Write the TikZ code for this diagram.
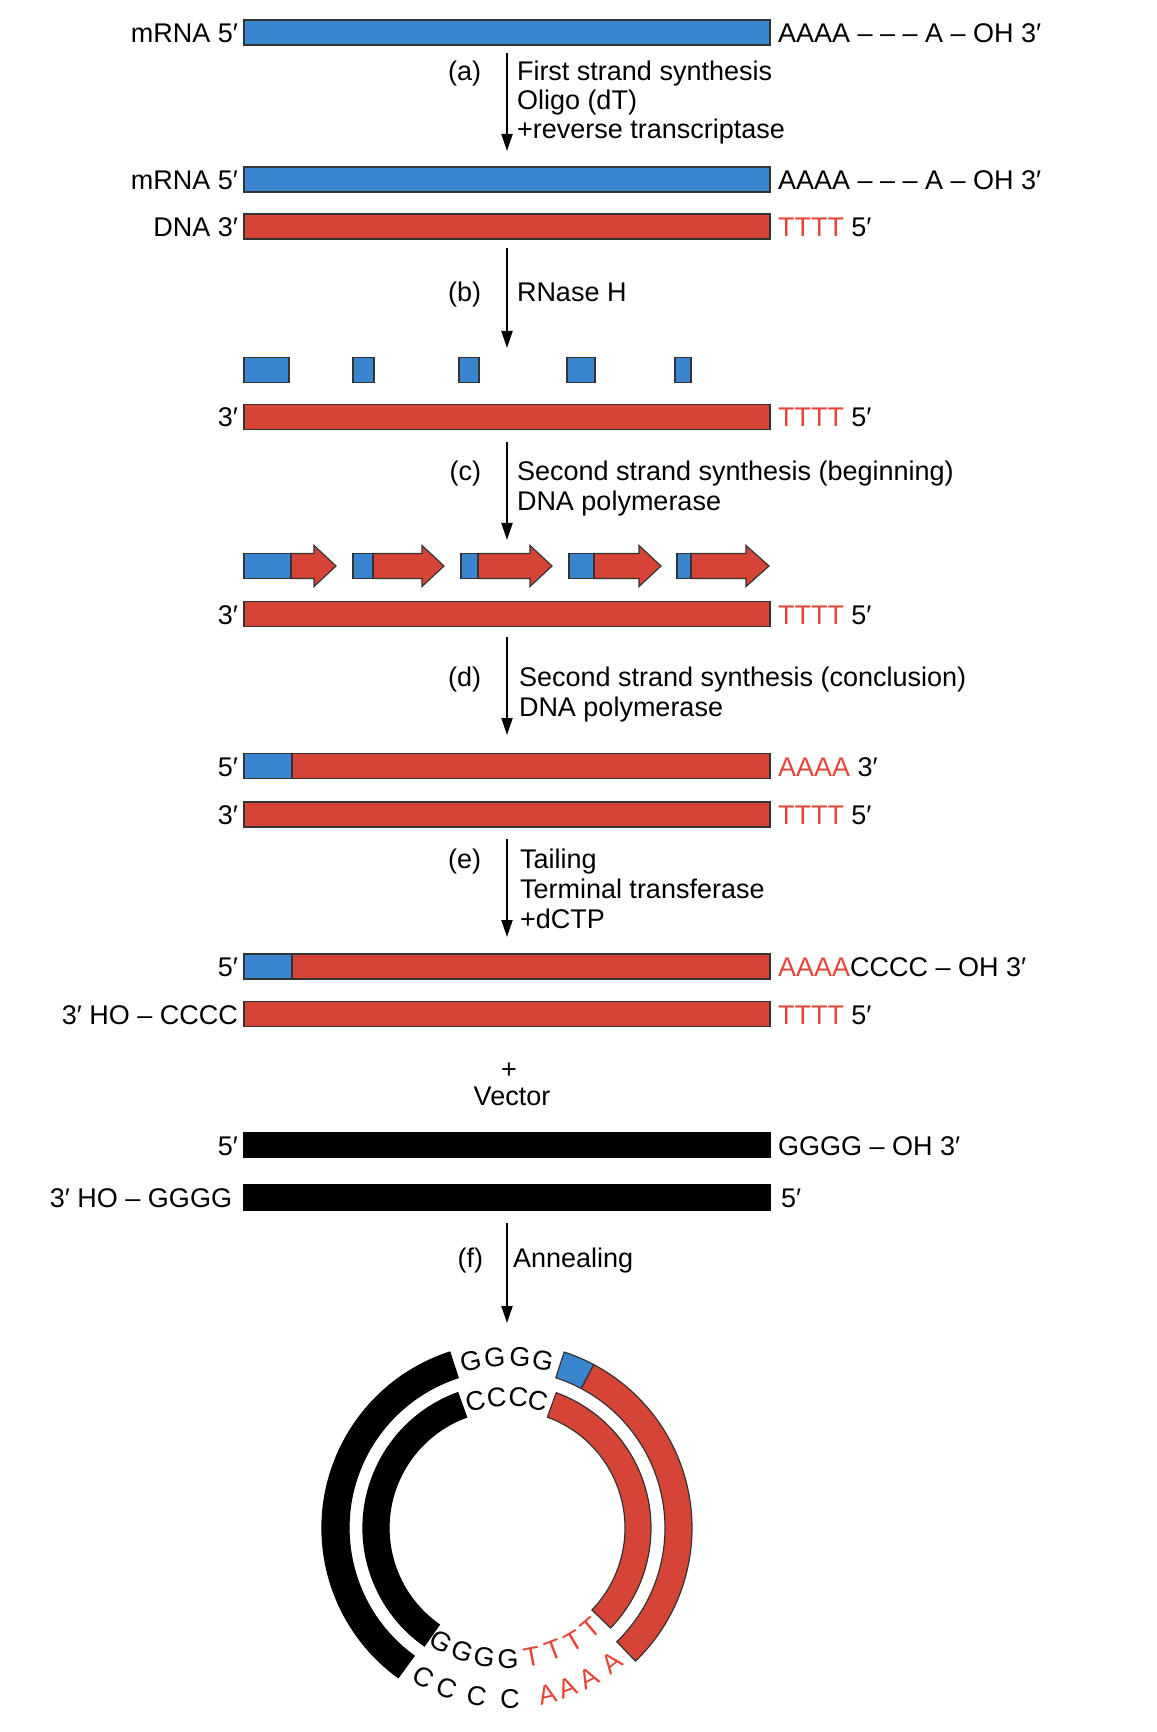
\documentclass[tikz,border=0pt]{standalone}
\usepackage{fontspec}
\setmainfont{Liberation Sans}
\usetikzlibrary{arrows.meta}
\definecolor{rnablue}{HTML}{3A86CE}
\definecolor{dnared}{HTML}{D54434}
\definecolor{txtred}{HTML}{E4463A}
\definecolor{edgegray}{HTML}{333333}
\newcommand\annseg[5]{\draw[#5] (#1:#3) arc[start angle=#1, end angle=#2, radius=#3] -- (#2:#4) arc[start angle=#2, end angle=#1, radius=#4] -- cycle;}
\newcommand\primerarrow[4]{%
  \draw[redbox] (#2,553.5) -- (#3,553.5) -- (#3,545.5) -- (#4,566) -- (#3,586.5) -- (#3,578.5) -- (#2,578.5) -- cycle;
  \draw[bluebox] (#1,553.5) rectangle (#2,578.5);}
\begin{document}
\begin{tikzpicture}[x=0.5pt,y=-0.5pt,
  every node/.style={font=\fontsize{13.5pt}{16pt}\selectfont, inner sep=0pt, outer sep=0pt},
  bluebox/.style={fill=rnablue, draw=edgegray, line width=0.6pt},
  redbox/.style={fill=dnared, draw=edgegray, line width=0.6pt},
  blackbox/.style={fill=black, draw=black, line width=0.6pt},
  lbl/.style={anchor=base east},
  rbl/.style={anchor=base west},
  steplbl/.style={anchor=base east},
  steptxt/.style={anchor=base west},
  flow/.style={line width=1pt, -{Triangle[length=8.5pt,width=5.5pt]}},
  ringletter/.style={anchor=center}
]
\useasboundingbox (0,0) rectangle (1156,1732);

% ---------- row 1 : mRNA ----------
\draw[bluebox] (244,20) rectangle (770,45);
\node[lbl] (l1) at (238,42.5) {mRNA 5′};
\node[rbl] (r1) at (778,42.5) {AAAA – – – A – OH 3′};

% step (a)
\coordinate (a0) at (507,53); \coordinate (a1) at (507,151);
\draw[flow] (a0) -- (a1);
\node[steplbl] (sa) at (481,81) {(a)};
\node[steptxt] (ta1) at (517,81) {First strand synthesis};
\node[steptxt] (ta2) at (517,110) {Oligo (dT)};
\node[steptxt] (ta3) at (517,139) {+reverse transcriptase};

% ---------- rows 2-3 ----------
\draw[bluebox] (244,167) rectangle (770,192);
\node[lbl] (l2) at (238,189.5) {mRNA 5′};
\node[rbl] (r2) at (778,189.5) {AAAA – – – A – OH 3′};
\draw[redbox] (244,214) rectangle (770,239);
\node[lbl] (l3) at (238,236.5) {DNA 3′};
\node[rbl] (r3) at (778,236.5) {\textcolor{txtred}{TTTT} 5′};

% step (b)
\coordinate (b0) at (507,248); \coordinate (b1) at (507,348);
\draw[flow] (b0) -- (b1);
\node[steplbl] (sb) at (481,302) {(b)};
\node[steptxt] (tb1) at (517,302) {RNase H};

% ---------- fragments ----------
\draw[bluebox] (244,357.5) rectangle (289,382.5);
\draw[bluebox] (353,357.5) rectangle (374,382.5);
\draw[bluebox] (459,357.5) rectangle (479,382.5);
\draw[bluebox] (567,357.5) rectangle (595,382.5);
\draw[bluebox] (675,357.5) rectangle (691,382.5);
\draw[redbox] (244,404.5) rectangle (770,429.5);
\node[lbl] (l4) at (238,427) {3′};
\node[rbl] (r4) at (778,427) {\textcolor{txtred}{TTTT} 5′};

% step (c)
\coordinate (c0) at (507,442); \coordinate (c1) at (507,540);
\draw[flow] (c0) -- (c1);
\node[steplbl] (sc) at (481,481) {(c)};
\node[steptxt] (tc1) at (517,481) {Second strand synthesis (beginning)};
\node[steptxt] (tc2) at (517,511) {DNA polymerase};

% ---------- primer arrows ----------
\primerarrow{244}{291}{314}{336}
\primerarrow{353}{373}{422}{444}
\primerarrow{461}{478}{530}{552}
\primerarrow{569}{594}{639}{661}
\primerarrow{677}{691}{746}{769}
\draw[redbox] (244,601.5) rectangle (770,626.5);
\node[lbl] (l5) at (238,624) {3′};
\node[rbl] (r5) at (778,624) {\textcolor{txtred}{TTTT} 5′};

% step (d)
\coordinate (d0) at (507,637); \coordinate (d1) at (507,735);
\draw[flow] (d0) -- (d1);
\node[steplbl] (sd) at (481,686) {(d)};
\node[steptxt] (td1) at (519,686) {Second strand synthesis (conclusion)};
\node[steptxt] (td2) at (519,716) {DNA polymerase};

% ---------- rows 6-7 ----------
\draw[redbox] (244,753.5) rectangle (770,778.5);
\draw[bluebox] (244,753.5) rectangle (292,778.5);
\node[lbl] (l6) at (238,776) {5′};
\node[rbl] (r6) at (778,776) {\textcolor{txtred}{AAAA} 3′};
\draw[redbox] (244,802) rectangle (770,827);
\node[lbl] (l7) at (238,824.5) {3′};
\node[rbl] (r7) at (778,824.5) {\textcolor{txtred}{TTTT} 5′};

% step (e)
\coordinate (e0) at (507,839); \coordinate (e1) at (507,937);
\draw[flow] (e0) -- (e1);
\node[steplbl] (se) at (481,868) {(e)};
\node[steptxt] (te1) at (520,868) {Tailing};
\node[steptxt] (te2) at (520,898) {Terminal transferase};
\node[steptxt] (te3) at (520,928) {+dCTP};

% ---------- rows 8-9 ----------
\draw[redbox] (244,954) rectangle (770,979);
\draw[bluebox] (244,954) rectangle (292,979);
\node[lbl] (l8) at (238,976.5) {5′};
\node[rbl] (r8) at (778,976.5) {\textcolor{txtred}{AAAA}CCCC – OH 3′};
\draw[redbox] (244,1001.5) rectangle (770,1026.5);
\node[lbl] (l9) at (238,1024) {3′ HO – CCCC};
\node[rbl] (r9) at (778,1024) {\textcolor{txtred}{TTTT} 5′};

% ---------- vector ----------
\node (plus) at (509,1071) {+};
\node[anchor=base] (vec) at (512,1105) {Vector};
\draw[blackbox] (244,1132.5) rectangle (770,1157.5);
\node[lbl] (l10) at (238,1155) {5′};
\node[rbl] (r10) at (778,1155) {GGGG – OH 3′};
\draw[blackbox] (244,1185) rectangle (770,1210);
\node[lbl] (l11) at (232,1207.5) {3′ HO – GGGG};
\node[rbl] (r11) at (781,1207.5) {5′};

% step (f)
\coordinate (f0) at (507,1223); \coordinate (f1) at (507,1323);
\draw[flow] (f0) -- (f1);
\node[steplbl] (sf) at (483,1267) {(f)};
\node[steptxt] (tf1) at (513,1267) {Annealing};

% ---------- annealed circle ----------
\begin{scope}[shift={(507,1528)}, x=0.5pt, y=0.5pt]
  \annseg{108}{234}{185}{158}{blackbox}
  \annseg{62}{72}{185}{158}{bluebox}
  \annseg{-46}{62}{185}{158}{redbox}
  \annseg{110}{235}{144}{118}{blackbox}
  \annseg{-44}{70}{144}{118}{redbox}
  \foreach \a/\n in {102.3/1,94.1/2,85.6/3,77.9/4}
    \node[ringletter, rotate=\a-90] (og\n) at (\a:171) {G};
  \foreach \a/\n in {104/1,94.5/2,85/3,76.4/4}
    \node[ringletter, rotate=\a-90] (ic\n) at (\a:131) {C};
  \foreach \a/\n in {240/1,250/2,260/3,270.5/4}
    \node[ringletter, rotate=\a+90] (ig\n) at (\a:131) {G};
  \foreach \a/\n in {281/1,291/2,300.5/3,310/4}
    \node[ringletter, rotate=\a+90, text=txtred] (it\n) at (\a:131) {T};
  \foreach \a/\n in {240.6/1,249.4/2,259.8/3,271/4}
    \node[ringletter, rotate=\a+90] (oc\n) at (\a:171) {C};
  \foreach \a/\n in {283.6/1,290.7/2,298.5/3,308/4}
    \node[ringletter, rotate=\a+90, text=txtred] (oa\n) at (\a:171) {A};
\end{scope}
\end{tikzpicture}
\end{document}
